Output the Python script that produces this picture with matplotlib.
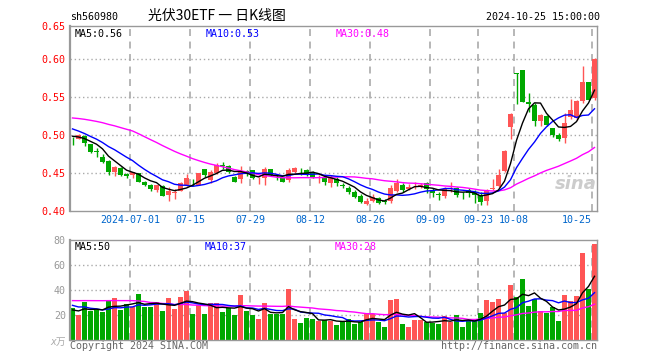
import matplotlib
matplotlib.use('Agg')
import matplotlib.pyplot as plt
import pandas as pd

plt.rcParams['font.family'] = ['DejaVu Sans Mono', 'Noto Sans CJK SC']
plt.rcParams['lines.scale_dashes'] = False

# 日K数据 2024-06-17 ~ 2024-10-25
opens = [0.4965, 0.4955, 0.4985, 0.4886, 0.4794, 0.4715, 0.4662, 0.4521, 0.4574, 0.4491,
         0.4478, 0.4500, 0.4380, 0.4346, 0.4275, 0.4333, 0.4215, 0.4237, 0.4272, 0.4346,
         0.4390, 0.4346, 0.4557, 0.4410, 0.4500, 0.4605, 0.4600, 0.4455, 0.4430, 0.4525,
         0.4544, 0.4407, 0.4434, 0.4553, 0.4470, 0.4435, 0.4406, 0.4522, 0.4535, 0.4544,
         0.4520, 0.4445, 0.4447, 0.4377, 0.4421, 0.4342, 0.4311, 0.4259, 0.4206, 0.4096,
         0.4140, 0.4171, 0.4130, 0.4131, 0.4267, 0.4346, 0.4289, 0.4320, 0.4335, 0.4368,
         0.4272, 0.4230, 0.4200, 0.4315, 0.4311, 0.4220, 0.4280, 0.4259, 0.4215, 0.4140,
         0.4298, 0.4333, 0.4531, 0.5106, 0.5816, 0.5861, 0.5435, 0.5400, 0.5194, 0.5255,
         0.5093, 0.5005, 0.4960, 0.5240, 0.5230, 0.5452, 0.5700, 0.5488]
highs = [0.4975, 0.5018, 0.5005, 0.4890, 0.4838, 0.4750, 0.4680, 0.4590, 0.4580, 0.4508,
         0.4520, 0.4510, 0.4395, 0.4355, 0.4350, 0.4350, 0.4316, 0.4294, 0.4380, 0.4487,
         0.4420, 0.4510, 0.4560, 0.4550, 0.4632, 0.4650, 0.4610, 0.4465, 0.4600, 0.4540,
         0.4550, 0.4447, 0.4580, 0.4560, 0.4490, 0.4440, 0.4570, 0.4588, 0.4575, 0.4560,
         0.4530, 0.4478, 0.4460, 0.4478, 0.4456, 0.4377, 0.4333, 0.4280, 0.4228, 0.4171,
         0.4228, 0.4193, 0.4158, 0.4346, 0.4425, 0.4368, 0.4355, 0.4381, 0.4377, 0.4390,
         0.4302, 0.4259, 0.4324, 0.4390, 0.4320, 0.4259, 0.4302, 0.4280, 0.4259, 0.4300,
         0.4420, 0.4553, 0.4805, 0.5290, 0.5816, 0.5861, 0.5560, 0.5420, 0.5280, 0.5265,
         0.5100, 0.5030, 0.5300, 0.5480, 0.5460, 0.5910, 0.5707, 0.6023]
lows = [0.4870, 0.4950, 0.4864, 0.4763, 0.4719, 0.4640, 0.4478, 0.4464, 0.4470, 0.4434,
        0.4434, 0.4380, 0.4330, 0.4268, 0.4255, 0.4195, 0.4140, 0.4158, 0.4265, 0.4333,
        0.4333, 0.4340, 0.4456, 0.4370, 0.4490, 0.4557, 0.4500, 0.4385, 0.4376, 0.4470,
        0.4420, 0.4360, 0.4340, 0.4470, 0.4415, 0.4380, 0.4390, 0.4510, 0.4478, 0.4470,
        0.4440, 0.4377, 0.4346, 0.4324, 0.4338, 0.4302, 0.4228, 0.4171, 0.4105, 0.4083,
        0.4118, 0.4092, 0.4096, 0.4114, 0.4250, 0.4254, 0.4280, 0.4289, 0.4302, 0.4245,
        0.4193, 0.4149, 0.4171, 0.4260, 0.4193, 0.4162, 0.4193, 0.4105, 0.4083, 0.4083,
        0.4280, 0.4320, 0.4520, 0.4948, 0.5408, 0.5435, 0.5310, 0.5127, 0.5127, 0.5120,
        0.4980, 0.4930, 0.4905, 0.5210, 0.5200, 0.5420, 0.5460, 0.5470]
closes = [0.4960, 0.5000, 0.4895, 0.4785, 0.4775, 0.4653, 0.4521, 0.4587, 0.4478, 0.4469,
          0.4515, 0.4390, 0.4346, 0.4289, 0.4346, 0.4201, 0.4272, 0.4250, 0.4368, 0.4443,
          0.4382, 0.4500, 0.4482, 0.4520, 0.4605, 0.4590, 0.4515, 0.4390, 0.4520, 0.4505,
          0.4434, 0.4416, 0.4560, 0.4478, 0.4460, 0.4390, 0.4544, 0.4566, 0.4530, 0.4478,
          0.4456, 0.4450, 0.4390, 0.4434, 0.4368, 0.4338, 0.4259, 0.4193, 0.4118, 0.4136,
          0.4193, 0.4105, 0.4127, 0.4311, 0.4377, 0.4280, 0.4324, 0.4325, 0.4340, 0.4293,
          0.4237, 0.4215, 0.4289, 0.4324, 0.4215, 0.4215, 0.4237, 0.4215, 0.4127, 0.4280,
          0.4303, 0.4478, 0.4794, 0.5282, 0.5812, 0.5440, 0.5410, 0.5190, 0.5268, 0.5137,
          0.5005, 0.4948, 0.5160, 0.5334, 0.5452, 0.5707, 0.5470, 0.6006]
# 成交量(万)
volumes = [25.3, 20.0, 30.4, 23.2, 24.3, 22.4, 31.2, 33.6, 24.0, 28.8,
           26.7, 36.8, 26.7, 26.7, 30.4, 23.2, 33.6, 24.8, 34.7, 39.2,
           21.1, 28.0, 21.1, 29.6, 29.6, 22.4, 25.9, 20.0, 36.0, 23.2,
           20.0, 16.8, 29.6, 21.1, 21.1, 21.1, 40.8, 16.8, 13.6, 17.6,
           16.8, 15.5, 16.0, 15.5, 12.0, 15.2, 16.8, 13.1, 14.4, 21.6,
           20.5, 14.4, 10.7, 32.3, 33.0, 13.1, 10.7, 16.3, 16.3, 14.7,
           13.6, 13.1, 19.5, 14.4, 20.3, 10.7, 15.2, 15.2, 21.9, 32.3,
           30.7, 33.0, 21.9, 44.3, 34.7, 49.0, 27.5, 32.8, 23.2, 21.9,
           26.7, 15.5, 36.3, 31.5, 35.5, 70.0, 41.0, 76.8]
# 区间之前29个交易日(用于均线)
prev_closes = [0.522, 0.520, 0.518, 0.521, 0.516, 0.519, 0.515, 0.517, 0.514, 0.518,
               0.548, 0.552, 0.545, 0.547, 0.543, 0.541, 0.538, 0.537, 0.535, 0.534,
               0.528, 0.522, 0.517, 0.513, 0.510, 0.505, 0.500, 0.497, 0.496]
prev_volumes = [21, 29, 24, 25, 23, 30, 32, 25, 29, 27,
                45, 38, 52, 36, 41, 39, 44, 35, 38, 35,
                33, 30, 34, 29, 31, 24, 22, 26, 23]

tick_idx = [10, 20, 30, 40, 50, 60, 68, 74, 87]
tick_labels = ['2024-07-01', '07-15', '07-29', '08-12', '08-26', '09-09', '09-23', '10-08', '10-25']

W, H = 660, 360
fig = plt.figure(figsize=(6.6, 3.6), dpi=100)
def fx(px):
    return px / W
def fy(py):
    return 1 - py / H

RED = '#ff5555'
GREEN = '#00a800'
GRID = '#aaaaaa'
FRAME = '#999999'
BLUE_TXT = '#0066cc'

n = len(closes)
x = list(range(n))
colors = [RED if c >= o else GREEN for o, c in zip(opens, closes)]

ax = fig.add_axes([fx(70), fy(211.3), fx(597) - fx(70), fy(26) - fy(211.3)])
axv = fig.add_axes([fx(70), fy(340), fx(597) - fx(70), fy(240) - fy(340)])

xmax = 527 / 6
ytop = 0.40 + (211.3 - 26) / 760
for a in (ax, axv):
    a.set_xlim(0, xmax)
    for s in a.spines.values():
        s.set_color(FRAME)
        s.set_linewidth(1)
    for i in tick_idx:
        a.axvline(i, color=GRID, lw=1.2, ls=(0, (5, 4)), zorder=0)
ax.spines['left'].set_linewidth(1.6)
axv.spines['left'].set_linewidth(1.6)

# 价格
ax.set_ylim(0.40, ytop)
for v in [0.45, 0.50, 0.55, 0.60]:
    ax.axhline(v, color=GRID, lw=1, ls=(0, (1, 2)), zorder=0)

bw = 5 / 6
bottoms = [min(o, c) for o, c in zip(opens, closes)]
heights = [max(abs(c - o), 0.0004) for o, c in zip(opens, closes)]
ax.vlines([i + bw / 2 for i in x], lows, highs, colors=colors, lw=1, zorder=2)
ax.bar(x, heights, bottom=bottoms, width=bw, align='edge', color=colors, lw=0, zorder=3)

allc = pd.Series(prev_closes + closes)
for win, col in [(30, '#ff00ff'), (10, '#0000ff'), (5, '#000000')]:
    ma = allc.rolling(win).mean().iloc[len(prev_closes):].values
    ax.plot([i + bw / 2 for i in x], ma, color=col, lw=1, zorder=4)

ax.set_yticks([0.40, 0.45, 0.50, 0.55, 0.60, ytop], ['0.40', '0.45', '0.50', '0.55', '0.60', '0.65'])
ax.set_xticks(tick_idx, tick_labels)
ax.tick_params(axis='y', length=0, labelcolor='#ff0000', labelsize=7.2, pad=3)
ax.tick_params(axis='x', length=0, labelcolor=BLUE_TXT, labelsize=7.2, pad=3)
ax.get_xticklabels()[-1].set_horizontalalignment('right')

# 成交量
axv.set_ylim(0, 80)
for v in [20, 40, 60]:
    axv.axhline(v, color=GRID, lw=1, ls=(0, (1, 2)), zorder=0)
axv.bar(x, volumes, width=bw, align='edge', color=colors, lw=0, zorder=2)
allv = pd.Series(prev_volumes + volumes)
for win, col in [(30, '#ff00ff'), (10, '#0000ff'), (5, '#000000')]:
    ma = allv.rolling(win).mean().iloc[len(prev_volumes):].values
    axv.plot([i + bw / 2 for i in x], ma, color=col, lw=1, zorder=4)
axv.set_yticks([20, 40, 60, 80], ['20', '40', '60', '80'])
axv.set_xticks([])
axv.tick_params(axis='y', length=0, labelcolor=FRAME, labelsize=7.2, pad=3)

# 文字
fig.text(fx(70), fy(17), 'sh560980', fontsize=7.2, va='center', ha='left')
fig.text(fx(217), fy(16), '光伏30ETF 一 日K线图', fontsize=10, va='center', ha='center',
         family=['Noto Sans CJK SC', 'DejaVu Sans'])
fig.text(fx(600), fy(17), '2024-10-25 15:00:00', fontsize=7.2, va='center', ha='right')
fig.text(fx(75), fy(34), 'MA5:0.56', fontsize=7.2, va='center', color='#000000')
fig.text(fx(206), fy(34), 'MA10:0.53', fontsize=7.2, va='center', color='#0000ff')
fig.text(fx(336), fy(34), 'MA30:0.48', fontsize=7.2, va='center', color='#ff00ff')
fig.text(fx(75), fy(247), 'MA5:50', fontsize=7.2, va='center', color='#000000')
fig.text(fx(205), fy(247), 'MA10:37', fontsize=7.2, va='center', color='#0000ff')
fig.text(fx(335), fy(247), 'MA30:28', fontsize=7.2, va='center', color='#ff00ff')
fig.text(fx(50), fy(342), 'x万', fontsize=7, va='center', color='#aaaaaa', style='italic')
fig.text(fx(70), fy(346), 'Copyright 2024 SINA.COM', fontsize=7.2, va='center', color='#666666')
fig.text(fx(597), fy(346), 'http://finance.sina.com.cn', fontsize=7.2, va='center', ha='right', color='#666666')
fig.text(fx(576), fy(184), 'sina', fontsize=13, va='center', ha='center', color='#cccccc',
         style='italic', weight='bold', family='DejaVu Sans')

fig.savefig('out.png', dpi=100)
